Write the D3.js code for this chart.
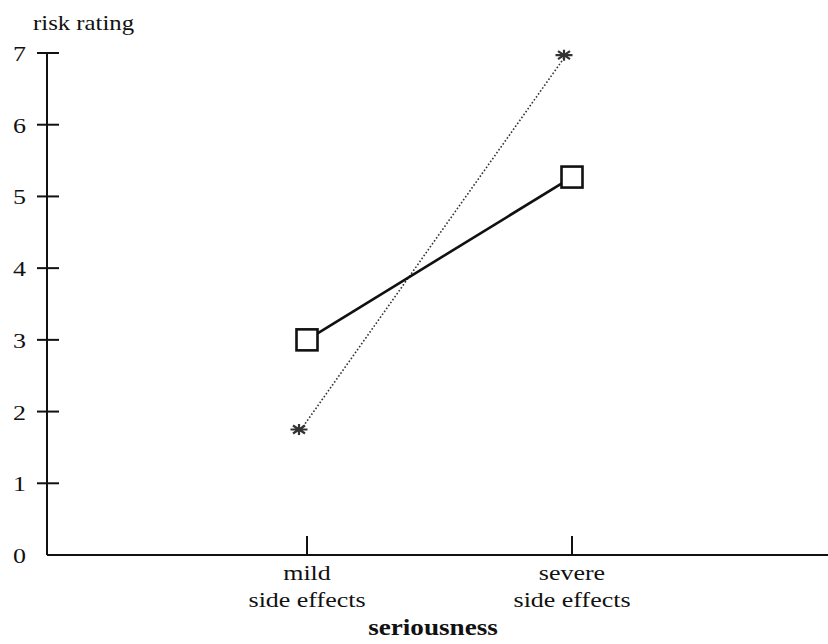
<!DOCTYPE html>
<html><head><meta charset="utf-8">
<script src="https://cdn.jsdelivr.net/npm/d3@7"></script>
<style>body{margin:0;background:#fff}svg{display:block}text{font-family:"Liberation Serif","Times New Roman",serif;fill:#111}</style>
</head><body><svg id="c" width="828" height="644"></svg>
<script>
const categories = ["mild|side effects", "severe|side effects"];
const squareSeries = [3.0, 5.27];
const starSeries = [1.75, 6.97];
const yTicks = [0,1,2,3,4,5,6,7];

const svg = d3.select("#c");
const x = d3.scaleLinear().domain([0,1]).range([307,572]);
const y = d3.scaleLinear().domain([0,7]).range([555,53]);
const ax = 47, axRight = 828, SX = 1.18;

function txt(xp, yp, s, size, anchor, bold){
  return svg.append("text").attr("transform",`translate(${xp},${yp}) scale(${SX},1)`)
    .attr("text-anchor",anchor).attr("font-size",size).attr("font-weight",bold?"bold":"normal").text(s);
}

// y axis
svg.append("line").attr("x1",ax).attr("x2",ax).attr("y1",y(7)).attr("y2",y(0)).attr("stroke","#111").attr("stroke-width",2);
yTicks.forEach(t=>{
  if(t>0) svg.append("line").attr("x1",ax-10).attr("x2",ax+12).attr("y1",y(t)).attr("y2",y(t)).attr("stroke","#111").attr("stroke-width",2);
  txt(26, y(t)+8, t, 22, "end");
});
txt(33, 30, "risk rating", 21, "start");

// x axis
svg.append("line").attr("x1",ax).attr("x2",axRight).attr("y1",y(0)).attr("y2",y(0)).attr("stroke","#111").attr("stroke-width",2);
categories.forEach((c,i)=>{
  svg.append("line").attr("x1",x(i)).attr("x2",x(i)).attr("y1",y(0)-19).attr("y2",y(0)).attr("stroke","#111").attr("stroke-width",2);
  c.split("|").forEach((p,j)=>txt(x(i), 580+j*27, p, 22, "middle"));
});
txt(433, 635, "seriousness", 23, "middle", true);

// dotted star line
const starDx = -8;
svg.append("path").datum(starSeries)
  .attr("d", d3.line().x((d,i)=>x(i)+starDx+2).y(d=>y(d)))
  .attr("fill","none").attr("stroke","#333").attr("stroke-width",1.6).attr("stroke-dasharray","1.6,2");
// solid square line
svg.append("path").datum(squareSeries)
  .attr("d", d3.line().x((d,i)=>x(i)).y(d=>y(d)))
  .attr("fill","none").attr("stroke","#111").attr("stroke-width",2.6);
// squares
svg.selectAll(".sq").data(squareSeries).enter().append("rect")
  .attr("x",(d,i)=>x(i)-10.5).attr("y",d=>y(d)-10.5).attr("width",21).attr("height",21)
  .attr("fill","#fff").attr("stroke","#111").attr("stroke-width",2.6);
// stars (asterisks)
svg.selectAll(".st").data(starSeries).enter().append("path")
  .attr("transform",(d,i)=>`translate(${x(i)+starDx},${y(d)})`)
  .attr("d","M-8.5,0L8.5,0M0,-5.5L0,5.5M-6,-4L6,4M-6,4L6,-4")
  .attr("fill","none").attr("stroke","#333").attr("stroke-width",2.2);
</script></body></html>
